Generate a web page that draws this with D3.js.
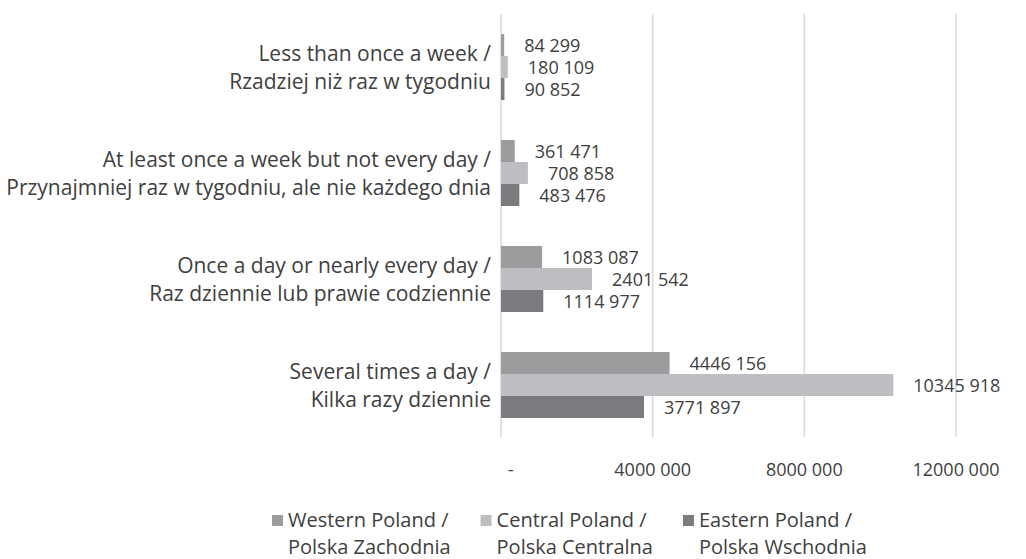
<!DOCTYPE html>
<html>
<head>
<meta charset="utf-8">
<script src="https://cdn.jsdelivr.net/npm/d3@7"></script>
<style>
  body { margin: 0; background: #fff; }
  text { font-family: 'Open Sans', sans-serif; fill: #404040; }
</style>
</head>
<body>
<div data-js-graph></div>
<script>
// categories, top to bottom (two lines each)
const categories = [
  ['Less than once a week /', 'Rzadziej niż raz w tygodniu'],
  ['At least once a week but not every day /', 'Przynajmniej raz w tygodniu, ale nie każdego dnia'],
  ['Once a day or nearly every day /', 'Raz dziennie lub prawie codziennie'],
  ['Several times a day /', 'Kilka razy dziennie'],
];
const seriesNames = [
  ['Western Poland /', 'Polska Zachodnia'],
  ['Central Poland /', 'Polska Centralna'],
  ['Eastern Poland /', 'Polska Wschodnia'],
];
const western = [84299, 361471, 1083087, 4446156];
const central = [180109, 708858, 2401542, 10345918];
const eastern = [90852, 483476, 1114977, 3771897];
const ticks = [0, 4000000, 8000000, 12000000];
const colors = ['#9c9c9f', '#bdbec1', '#7a7b7e'];

const SETTING = {
  width: 1026,
  height: 559,
  left: 501,
  right: 956,
  top: 14,
  bottom: 438,
  catSize: 21,
  legendSize: 20,
  numSize: 18,
  labelGap: 20,
};

// "10345 918" style: only the last group is separated
const fmt = (v) => {
  if (v === 0) return '-';
  const hi = Math.floor(v / 1000);
  const lo = String(v % 1000).padStart(3, '0');
  return hi > 0 ? `${hi} ${lo}` : lo;
};

const series = [western, central, eastern];
const keys = seriesNames.map((d, i) => i);

const svg = d3.select('[data-js-graph]').append('svg')
  .attr('width', SETTING.width)
  .attr('height', SETTING.height);

const x = d3.scaleLinear()
  .domain([0, 12000000])
  .range([SETTING.left, SETTING.right]);

const y = d3.scaleBand()
  .domain(categories.map((d, i) => i))
  .range([SETTING.top, SETTING.bottom])
  .paddingInner(0.377)
  .paddingOuter(0.1887);

const ySub = d3.scaleBand()
  .domain(keys)
  .range([0, y.bandwidth()]);

// gridlines
svg.append('g')
  .selectAll('line')
  .data(ticks)
  .enter()
  .append('line')
  .attr('x1', (d) => x(d))
  .attr('x2', (d) => x(d))
  .attr('y1', SETTING.top)
  .attr('y2', SETTING.bottom - 1)
  .style('stroke', '#d9d9d9')
  .style('stroke-width', 1.5);

// tick labels
svg.append('g')
  .selectAll('text')
  .data(ticks)
  .enter()
  .append('text')
  .attr('x', (d) => x(d) + (d === 0 ? 10 : 0))
  .attr('y', 476)
  .attr('text-anchor', 'middle')
  .style('font-size', `${SETTING.numSize}px`)
  .text(fmt);

// bars
const groups = svg.append('g')
  .selectAll('g')
  .data(categories.map((c, i) => i))
  .enter()
  .append('g')
  .attr('transform', (d) => `translate(0,${y(d)})`);

groups.selectAll('rect')
  .data((ci) => keys.map((k) => ({ k, v: series[k][ci] })))
  .enter()
  .append('rect')
  .attr('x', x(0))
  .attr('y', (d) => ySub(d.k))
  .attr('width', (d) => x(d.v) - x(0))
  .attr('height', ySub.bandwidth())
  .style('fill', (d) => colors[d.k]);

// data labels
groups.selectAll('text')
  .data((ci) => keys.map((k) => ({ k, v: series[k][ci] })))
  .enter()
  .append('text')
  .attr('x', (d) => x(d.v) + SETTING.labelGap)
  .attr('y', (d) => ySub(d.k) + ySub.bandwidth() / 2)
  .attr('dy', '0.4em')
  .style('font-size', `${SETTING.numSize}px`)
  .text((d) => fmt(d.v));

// category labels
svg.append('g')
  .selectAll('text')
  .data(categories)
  .enter()
  .append('text')
  .attr('text-anchor', 'end')
  .style('font-size', `${SETTING.catSize}px`)
  .selectAll('tspan')
  .data((d, i) => d.map((line, j) => ({ line, j, i })))
  .enter()
  .append('tspan')
  .attr('x', 491)
  .attr('y', (d) => y(d.i) + y.bandwidth() / 2 - 6 + d.j * 28)
  .text((d) => d.line);

// legend
const legend = svg.append('g');
let lx = 272;
seriesNames.forEach((name, i) => {
  const item = legend.append('g').attr('transform', `translate(${lx},0)`);
  item.append('rect')
    .attr('x', 0)
    .attr('y', 515)
    .attr('width', 11)
    .attr('height', 11)
    .style('fill', colors[i]);
  const t = item.append('text')
    .style('font-size', `${SETTING.legendSize}px`);
  t.append('tspan').attr('x', 16).attr('y', 527).text(name[0]);
  t.append('tspan').attr('x', 16).attr('y', 554).text(name[1]);
  lx += 16 + t.node().getBBox().width + 30;
});
</script>
</body>
</html>
